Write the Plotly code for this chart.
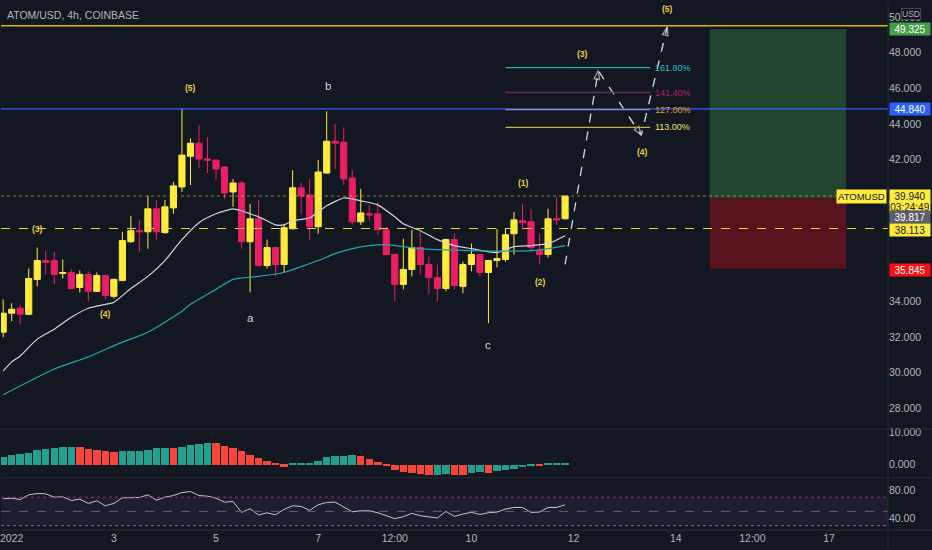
import pandas as pd
import plotly.graph_objects as go

# ---------------- data ----------------
candle_start = "2021-12-31 20:00"
opens = [32.28, 33.35, 33.63, 33.29, 35.25, 36.31, 36.31, 35.58, 35.64, 34.80,
         35.53, 34.58, 35.47, 34.30, 35.19, 37.37, 37.99, 37.93, 39.22, 37.88,
         39.27, 40.45, 42.18, 42.91, 42.02, 41.96, 41.57, 40.17, 40.67, 37.37,
         38.66, 36.03, 37.04, 36.09, 38.10, 40.40, 40.00, 38.21, 41.23, 43.02,
         42.96, 40.95, 38.49, 38.94, 38.94, 38.04, 36.65, 34.97, 35.81, 37.04,
         36.09, 35.36, 34.74, 37.49, 34.86, 36.09, 36.65, 35.64, 36.31, 36.37,
         37.82, 38.55, 38.49, 36.87, 36.65, 38.66, 38.66]
highs = [34.13, 33.91, 33.80, 35.86, 37.04, 36.87, 36.81, 36.37, 35.81, 35.75,
         35.70, 35.64, 35.53, 35.30, 37.93, 38.83, 38.60, 39.95, 39.72, 39.72,
         40.73, 44.84, 43.19, 43.92, 43.25, 42.00, 41.62, 40.90, 40.78, 39.50,
         39.72, 37.49, 37.10, 38.38, 41.40, 40.67, 40.90, 41.96, 44.70, 43.97,
         43.80, 41.40, 40.34, 39.44, 39.61, 38.21, 36.70, 37.54, 38.04, 37.93,
         36.53, 36.09, 37.54, 37.82, 36.25, 37.26, 36.70, 36.35, 38.10, 38.10,
         39.05, 39.50, 39.22, 37.82, 39.22, 39.89, 39.94]
lows = [32.00, 32.90, 32.73, 33.23, 34.86, 35.53, 34.97, 35.30, 34.70, 34.52,
        34.02, 34.55, 34.13, 34.18, 35.15, 37.30, 36.81, 36.98, 37.49, 37.82,
        38.94, 40.17, 40.56, 41.51, 41.23, 40.84, 39.78, 39.33, 36.98, 34.52,
        35.98, 35.86, 35.42, 35.64, 38.05, 38.94, 37.49, 37.82, 41.20, 41.46,
        40.56, 38.32, 38.32, 38.55, 37.76, 36.60, 34.02, 34.69, 35.42, 35.53,
        34.41, 34.02, 34.58, 34.69, 34.46, 35.70, 35.42, 32.79, 35.92, 36.25,
        36.65, 38.04, 36.81, 36.09, 36.48, 38.32, 38.62]
closes = [33.35, 33.57, 33.29, 35.30, 36.31, 36.20, 35.53, 35.64, 34.74, 35.53,
          34.58, 35.47, 34.35, 35.25, 37.43, 37.99, 37.93, 39.22, 37.93, 39.33,
          40.51, 42.24, 42.91, 42.02, 41.96, 41.46, 40.11, 40.67, 37.37, 38.66,
          36.03, 37.04, 36.09, 38.16, 40.40, 39.95, 38.21, 41.29, 43.02, 42.91,
          40.90, 38.49, 38.99, 38.88, 38.04, 36.65, 34.97, 35.81, 37.04, 36.09,
          35.36, 34.74, 37.49, 34.91, 36.09, 36.65, 35.64, 36.31, 36.42, 37.76,
          38.60, 38.44, 37.04, 36.65, 38.66, 38.60, 39.94]

# moving averages, read at sampled candles
fast_ma_idx = [0, 1, 2, 4, 6, 8, 10, 12, 13, 15, 17, 19, 21, 23, 25, 27, 28, 29, 30, 31,
               32, 33, 34, 36, 38, 40, 41, 42, 44, 46, 47, 49, 51, 53, 55, 58, 60, 62, 64, 66]
fast_ma_vals = [30.10, 30.61, 30.94, 31.89, 32.45, 33.12, 33.63, 33.85, 33.96, 34.74,
                35.42, 36.31, 37.49, 38.44, 38.94, 39.22, 39.11, 38.94, 38.77, 38.55,
                38.32, 38.32, 38.55, 38.71, 39.39, 39.83, 39.78, 39.67, 39.44, 38.77,
                38.38, 37.99, 37.49, 37.15, 36.98, 36.76, 37.09, 37.15, 37.26, 37.71]
slow_ma_idx = [0, 6, 9, 10, 14, 17, 21, 22, 25, 27, 30, 33, 35, 37, 39, 41, 43, 45, 47,
               49, 51, 55, 59, 62, 64, 66]
slow_ma_vals = [28.76, 30.21, 30.72, 30.89, 31.72, 32.28, 33.46, 33.85, 34.69, 35.25,
                35.42, 35.64, 35.97, 36.31, 36.70, 36.98, 37.15, 37.21, 37.09, 36.98,
                36.93, 36.87, 36.84, 36.87, 36.98, 37.15]

macd_hist = [2.6, 3.1, 3.3, 3.75, 4.7, 5.0, 5.3, 5.65, 5.75, 5.6,
             5.1, 4.7, 4.3, 4.0, 4.2, 4.3, 4.4, 4.8, 5.2, 5.35,
             5.3, 5.7, 6.25, 6.5, 6.9, 6.7, 6.0, 5.3, 4.4, 3.1,
             2.2, 1.15, 0.4, -0.6, 0.3, 0.4, 0.7, 1.25, 2.4, 2.7,
             2.9, 2.95, 2.7, 1.9, 0.8, -0.3, -1.6, -2.3, -2.6, -2.9,
             -3.1, -3.05, -3.0, -3.1, -3.15, -2.7, -2.4, -2.45, -2.1, -1.7,
             -1.35, -0.7, -0.1, -0.15, 0.3, 0.6, 0.62]

rsi = [67.7, 68.6, 66.7, 73.3, 75.1, 74.7, 70.0, 70.5, 65.3, 67.2,
       61.2, 64.9, 57.9, 61.2, 69.1, 69.5, 69.5, 73.3, 65.8, 70.0,
       72.3, 76.5, 77.9, 72.3, 71.4, 68.6, 63.0, 63.9, 48.6, 53.7,
       44.9, 48.1, 45.3, 53.0, 57.9, 57.0, 51.4, 59.3, 62.6, 63.0,
       56.5, 49.5, 50.9, 50.9, 48.1, 44.4, 39.8, 42.6, 47.2, 44.0,
       42.1, 40.7, 50.0, 43.0, 46.3, 48.6, 45.8, 48.1, 49.1, 53.3,
       55.6, 55.6, 48.6, 49.1, 55.6, 55.6, 59.3]

# drawings
level_top = 49.51
level_blue = 44.84
level_dashed = 38.113
last_price = 39.94
entry_price = 39.817
target_price = 49.325
stop_price = 35.845
countdown = "03:24:49"
position_start = "2022-01-14 16:00"
position_end = "2022-01-17 08:00"

fib_start = "2022-01-10 16:00"
fib_end = "2022-01-13 12:00"
fib_label_time = "2022-01-13 13:30"
fib_levels = [47.16, 45.76, 44.80, 43.80]
fib_texts = ["161.80%", "141.40%", "127.00%", "113.00%"]

projection_times = ["2022-01-11 20:00", "2022-01-12 11:37", "2022-01-13 07:48", "2022-01-13 20:00"]
projection_prices = [36.09, 46.99, 43.36, 49.45]

wave_texts = ["(5)", "(3)", "(4)", "(1)", "(2)", "(3)", "(4)", "(5)"]
wave_times = ["2022-01-04 12:09", "2022-01-01 12:20", "2022-01-02 20:15", "2022-01-11 00:26",
              "2022-01-11 08:24", "2022-01-12 04:08", "2022-01-13 08:17", "2022-01-13 20:00"]
wave_prices = [46.04, 38.10, 33.29, 40.67, 35.08, 47.94, 42.41, 50.46]

abc_texts = ["a", "b", "c"]
abc_times = ["2022-01-05 16:18", "2022-01-07 04:26", "2022-01-10 08:00"]
abc_prices = [33.07, 46.10, 31.56]

x_tick_vals = ["2022-01-01", "2022-01-03", "2022-01-05", "2022-01-07", "2022-01-08 12:00",
               "2022-01-10", "2022-01-12", "2022-01-14", "2022-01-15 12:00", "2022-01-17"]
x_tick_text = ["2022", "3", "5", "7", "12:00", "10", "12", "14", "12:00", "17"]
price_ticks = [28, 30, 32, 34, 42, 44, 46, 48, 50]

# ---------------- figure ----------------
BG = "#131722"
TXT = "#b2b5be"
FONT = "Liberation Sans"
YEL = "#ffeb3b"
PINK = "#e91e63"

times = pd.date_range(candle_start, periods=len(opens), freq="4h")

fig = go.Figure()

fig.add_trace(go.Candlestick(
    x=times, open=opens, high=highs, low=lows, close=closes,
    increasing=dict(fillcolor=YEL, line=dict(color=YEL, width=1)),
    decreasing=dict(fillcolor=PINK, line=dict(color=PINK, width=1)),
    whiskerwidth=0, hoverinfo="skip", xaxis="x", yaxis="y", showlegend=False))

fig.add_trace(go.Scatter(
    x=times[fast_ma_idx], y=fast_ma_vals, mode="lines",
    line=dict(color="#d1d4dc", width=1.2, shape="spline", smoothing=0.6),
    hoverinfo="skip", xaxis="x", yaxis="y", showlegend=False))
fig.add_trace(go.Scatter(
    x=times[slow_ma_idx], y=slow_ma_vals, mode="lines",
    line=dict(color="#1fa5b0", width=1.2, shape="spline", smoothing=0.6),
    hoverinfo="skip", xaxis="x", yaxis="y", showlegend=False))

fig.add_trace(go.Scatter(
    x=pd.to_datetime(projection_times), y=projection_prices, mode="lines+markers",
    line=dict(color="#c9ccd4", width=1.4, dash="dash"),
    marker=dict(symbol="arrow-open", size=[0, 9, 9, 9], angleref="previous",
                color="#c9ccd4", line=dict(width=1.4, color="#c9ccd4")),
    hoverinfo="skip", xaxis="x", yaxis="y", showlegend=False))

macd_colors = []
for i, v in enumerate(macd_hist):
    rising = i == 0 or v > macd_hist[i - 1]
    macd_colors.append("#22a08f" if rising else "#f7463a")
fig.add_trace(go.Bar(
    x=times, y=macd_hist, marker=dict(color=macd_colors, line=dict(width=0)),
    width=4 * 3600 * 1000 * 0.88, hoverinfo="skip", xaxis="x", yaxis="y2", showlegend=False))

fig.add_trace(go.Scatter(
    x=times, y=rsi, mode="lines", line=dict(color="#c3c6ce", width=1),
    hoverinfo="skip", xaxis="x", yaxis="y3", showlegend=False))

# ---------------- shapes ----------------
shapes = []
def hline(y, color, width=1, dash="solid", yref="y", x0=0, x1=1, xref="paper"):
    shapes.append(dict(type="line", xref=xref, yref=yref, x0=x0, x1=x1, y0=y, y1=y,
                       line=dict(color=color, width=width, dash=dash), layer="above"))

# position box
shapes.append(dict(type="rect", xref="x", yref="y", x0=position_start, x1=position_end,
                   y0=entry_price, y1=target_price, fillcolor="rgba(60,150,75,0.35)",
                   line=dict(width=0), layer="below"))
shapes.append(dict(type="rect", xref="x", yref="y", x0=position_start, x1=position_end,
                   y0=stop_price, y1=entry_price, fillcolor="rgba(200,10,20,0.38)",
                   line=dict(width=0), layer="below"))

hline(level_top, "#d9b800", 1.5)
hline(level_blue, "#2962ff", 1.3)
hline(last_price, "rgba(220,205,60,0.6)", 1, "dot")
hline(level_dashed, "#e8d43a", 1, "dash")

fib_colors = ["#1fb5bd", "#6e2c4c", "#8d8f96", "#c9b037"]
fib_text_colors = ["#29c3cf", "#b8245e", "#f0971e", "#f2e266"]
for lv, c in zip(fib_levels, fib_colors):
    hline(lv, c, 1.4, xref="x", x0=fib_start, x1=fib_end)

# RSI band and levels
shapes.append(dict(type="rect", xref="paper", yref="y3", x0=0, x1=1, y0=30, y1=70,
                   fillcolor="rgba(126,87,194,0.10)", line=dict(width=0), layer="below"))
hline(70, "#9b2f66", 1, "dot", yref="y3")
hline(50, "#5d5f6b", 1, "dash", yref="y3")
hline(30, "#6f717c", 1, "dot", yref="y3")

# pane separators
PH = 530.0
for ypix in [428.5, 477.5, 530]:
    shapes.append(dict(type="line", xref="paper", yref="paper", x0=0, x1=932 / 888,
                       y0=(PH - ypix) / PH, y1=(PH - ypix) / PH,
                       line=dict(color="#2a2e39", width=1), layer="above"))
shapes.append(dict(type="line", xref="paper", yref="paper", x0=1, x1=1, y0=-20 / PH, y1=1,
                   line=dict(color="#2a2e39", width=1), layer="above"))

# ---------------- annotations ----------------
ann = []
ann.append(dict(xref="paper", yref="paper", x=0.005, y=1, xanchor="left", yanchor="top",
                yshift=-4, text="ATOM/USD, 4h, COINBASE", showarrow=False,
                font=dict(color=TXT, size=10.5, family=FONT)))
ann.append(dict(xref="paper", yref="paper", x=911 / 888, y=1, xanchor="center", yanchor="top",
                yshift=-5, text="USD", showarrow=False, bgcolor=BG, bordercolor="#434651",
                borderwidth=1, borderpad=0, font=dict(color=TXT, size=8.5, family=FONT)))

def tag(price, text, bg, fg, yshift=0):
    ann.append(dict(xref="paper", yref="y", x=1, y=price, xanchor="left", yanchor="middle",
                    xshift=1, yshift=yshift, text=text, showarrow=False, bgcolor=bg,
                    borderpad=0, width=40, height=12, align="center",
                    font=dict(color=fg, size=10, family=FONT)))

tag(target_price, "49.325", "#43a047", "#ffffff")
tag(level_blue, "44.840", "#2962ff", "#ffffff")
tag(last_price, "39.940", YEL, "#131722")
tag(last_price, countdown, YEL, "#131722", yshift=-11)
tag(entry_price, "39.817", "#5d606b", "#ffffff", yshift=-19)
tag(level_dashed, "38.113", YEL, "#131722", yshift=-1.5)
tag(stop_price, "35.845", "#ff1010", "#ffffff", yshift=-1)
ann.append(dict(xref="paper", yref="y", x=887 / 888, y=last_price, xanchor="right",
                yanchor="middle", text="ATOMUSD", showarrow=False, bgcolor=YEL, borderpad=1,
                font=dict(color="#131722", size=9.5, family=FONT)))

for lv, t, c in zip(fib_levels, fib_texts, fib_text_colors):
    ann.append(dict(xref="x", yref="y", x=fib_label_time, y=lv, xanchor="left",
                    yanchor="middle", text=t, showarrow=False,
                    font=dict(color=c, size=9, family=FONT)))

for t, tm, p in zip(wave_texts, wave_times, wave_prices):
    ann.append(dict(xref="x", yref="y", x=tm, y=p, text="<b>" + t + "</b>", showarrow=False,
                    font=dict(color="#e9cf35", size=8.5, family=FONT)))
for t, tm, p in zip(abc_texts, abc_times, abc_prices):
    ann.append(dict(xref="x", yref="y", x=tm, y=p, text=t, showarrow=False,
                    font=dict(color="#d1d4dc", size=11.5, family=FONT)))

# ---------------- layout ----------------
axis_font = dict(color=TXT, size=10.5, family=FONT)
fig.update_layout(
    width=932, height=550,
    margin=dict(l=0, r=44, t=0, b=20),
    paper_bgcolor=BG, plot_bgcolor=BG,
    showlegend=False, hovermode=False, bargap=0,
    boxgap=0.15, boxgroupgap=0.15,
    shapes=shapes, annotations=ann,
    xaxis=dict(type="date", range=["2021-12-31 18:59", "2022-01-18 03:43"], anchor="y3",
               tickvals=x_tick_vals, ticktext=x_tick_text, tickfont=axis_font,
               ticklabeloverflow="allow",
               showgrid=False, zeroline=False, showline=False, ticks="",
               rangeslider=dict(visible=False), fixedrange=True),
    yaxis=dict(domain=[(PH - 428) / PH, 1], range=[26.86, 50.796], side="right", anchor="x",
               tickvals=price_ticks, tickformat=".3f", tickfont=axis_font,
               showgrid=False, zeroline=False, showline=False, ticks=""),
    yaxis2=dict(domain=[(PH - 477) / PH, (PH - 429) / PH], range=[-4.06, 10.94], side="right",
                anchor="x", tickvals=[0, 10], tickformat=".3f", tickfont=axis_font,
                showgrid=False, zeroline=False, showline=False, ticks=""),
    yaxis3=dict(domain=[0, (PH - 478) / PH], range=[23.9, 96.5], side="right", anchor="x",
                tickvals=[40, 80], tickformat=".2f", tickfont=axis_font,
                showgrid=False, zeroline=False, showline=False, ticks=""),
)

fig.write_html("out.html", config={"displayModeBar": False},
               post_script="document.body.style.margin='0';document.body.style.background='#131722';")
